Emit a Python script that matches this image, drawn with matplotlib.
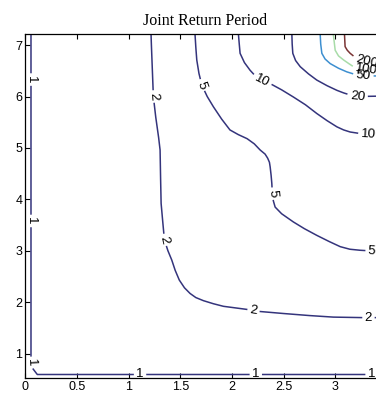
import matplotlib
matplotlib.use("Agg")
import matplotlib.pyplot as plt
import numpy as np
from matplotlib.contour import ContourSet

# return-period levels and the contour traced for each one (x, y)
levels = [1, 2, 5, 10, 20, 50, 100, 200]

x1 = [0.055, 0.055, 0.116, 3.50]
y1 = [7.30, 0.755, 0.594, 0.594]

x2 = [1.215, 1.220, 1.239, 1.262, 1.290, 1.304, 1.309, 1.314, 1.330, 1.346,
      1.380, 1.417, 1.450, 1.490, 1.540, 1.594, 1.650, 1.723, 1.820, 1.917,
      2.030, 2.143, 2.207, 2.498, 2.750, 2.980, 3.270, 3.500]
y2 = [7.30, 7.00, 6.00, 5.60, 5.20, 4.96, 4.40, 3.92, 3.56, 3.21,
      3.00, 2.82, 2.62, 2.43, 2.28, 2.17, 2.09, 2.03, 1.97, 1.92,
      1.89, 1.86, 1.83, 1.78, 1.74, 1.71, 1.70, 1.70]

x5 = [1.640, 1.642, 1.650, 1.659, 1.680, 1.708, 1.760, 1.820, 1.900, 1.980,
      2.060, 2.146, 2.215, 2.272, 2.320, 2.345, 2.362, 2.369, 2.378, 2.385,
      2.390, 2.400, 2.417, 2.480, 2.594, 2.700, 2.820, 2.940, 3.047, 3.140,
      3.240, 3.500]
y5 = [7.30, 7.21, 6.95, 6.71, 6.45, 6.22, 6.00, 5.80, 5.56, 5.35,
      5.26, 5.18, 5.08, 4.96, 4.88, 4.80, 4.72, 4.63, 4.47, 4.31,
      4.11, 3.97, 3.85, 3.72, 3.56, 3.43, 3.30, 3.18, 3.08, 3.03,
      3.01, 2.98]

x10 = [2.060, 2.062, 2.070, 2.078, 2.120, 2.175, 2.230, 2.288, 2.370, 2.480,
       2.594, 2.710, 2.820, 2.920, 3.015, 3.080, 3.143, 3.240, 3.500]
y10 = [7.30, 7.21, 7.02, 6.84, 6.66, 6.51, 6.39, 6.30, 6.25, 6.13,
       5.99, 5.84, 5.67, 5.53, 5.41, 5.35, 5.31, 5.28, 5.25]

x20 = [2.578, 2.579, 2.582, 2.588, 2.615, 2.660, 2.740, 2.820, 2.920, 3.015,
       3.080, 3.143, 3.214, 3.500]
y20 = [7.30, 7.21, 7.02, 6.84, 6.70, 6.58, 6.44, 6.32, 6.21, 6.12,
       6.07, 6.03, 6.00, 6.01]

x50 = [2.852, 2.853, 2.858, 2.869, 2.900, 2.950, 3.030, 3.110, 3.190, 3.270,
       3.500]
y50 = [7.30, 7.21, 7.02, 6.84, 6.73, 6.64, 6.55, 6.48, 6.43, 6.40,
       6.40]

x100 = [2.978, 2.980, 2.998, 3.030, 3.080, 3.130, 3.175, 3.240, 3.304, 3.500]
y100 = [7.30, 7.21, 6.90, 6.79, 6.71, 6.64, 6.58, 6.55, 6.52, 6.50]

x200 = [3.087, 3.088, 3.094, 3.115, 3.143, 3.180, 3.224, 3.304, 3.500]
y200 = [7.30, 7.21, 6.97, 6.90, 6.84, 6.78, 6.74, 6.68, 6.64]

line_colors = ['#34347c', '#34347c', '#34347c', '#34347c', '#34347c',
               '#3d8fd0', '#a8dca8', '#7a3434']

# where the inline labels sit along the lines
label_spots = [(0.055, 6.33), (0.055, 3.58), (0.055, 0.82),
               (1.11, 0.594), (2.23, 0.594), (3.35, 0.594),
               (1.239, 6.00), (1.346, 3.21), (2.207, 1.83), (3.32, 1.70),
               (1.708, 6.22), (2.390, 4.11), (3.35, 2.99),
               (2.288, 6.30), (3.32, 5.26),
               (3.214, 6.00), (3.27, 6.40), (3.304, 6.52), (3.304, 6.68)]

traces = [(x1, y1), (x2, y2), (x5, y5), (x10, y10),
          (x20, y20), (x50, y50), (x100, y100), (x200, y200)]
allsegs = [[np.column_stack([xs, ys])] for xs, ys in traces]

fig = plt.figure(figsize=(3.76, 3.94), dpi=100)
W, H = 376.0, 394.0
ax = fig.add_axes([25.3 / W, 1 - 378.3 / H, (385.0 - 25.3) / W, (378.3 - 34.3) / H])

cs = ContourSet(ax, levels, allsegs, colors=line_colors, linewidths=1.1)
ax.clabel(cs, inline=True, inline_spacing=2, fontsize=9.5, fmt='%g',
          colors='black', manual=label_spots)
for t in cs.labelTexts:
    t.set_fontfamily('Liberation Sans')

ax.set_xlim(0, 3.48)
ax.set_ylim(0.52, 7.21)
ax.set_xticks(np.arange(0, 3.01, 0.5))
ax.set_xticklabels(['0', '0.5', '1', '1.5', '2', '2.5', '3'])
ax.set_yticks(range(1, 8))

ax.tick_params(direction='in', length=3.5, width=0.8, top=True, right=True,
               labelsize=9, pad=2)
for lab in ax.get_xticklabels() + ax.get_yticklabels():
    lab.set_fontfamily('Liberation Sans')
for sp in ax.spines.values():
    sp.set_linewidth(0.9)

ax.set_title('Joint Return Period', fontfamily='Liberation Serif', fontsize=11.5, pad=7)

fig.savefig('out.png', dpi=100)
